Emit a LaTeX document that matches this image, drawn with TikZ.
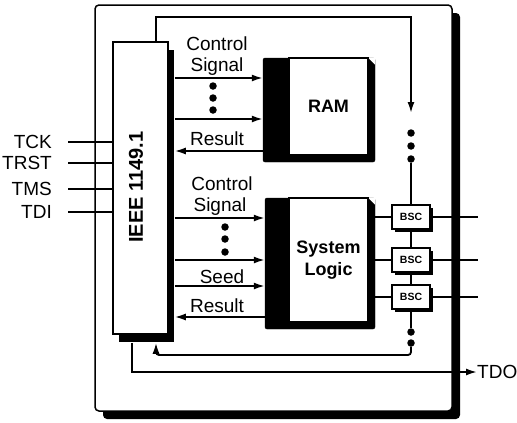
\documentclass[tikz,border=0pt]{standalone}
\usepackage{fontspec}
\setmainfont{Liberation Sans}
\usetikzlibrary{arrows.meta,shadows,calc}
\begin{document}
\begin{tikzpicture}[x=1pt,y=-1pt,
  ln/.style={line width=1.8pt},
  arr/.style={ln,-{Latex[length=11pt,width=7pt]}},
  face/.style={draw,line width=1.5pt,fill=white,inner sep=0pt},
  blk/.style={fill=black,draw=black,inner sep=0pt,rounded corners=2pt},
  lbl/.style={inner sep=0pt,font=\fontsize{19}{22}\selectfont},
  blbl/.style={font=\fontsize{18}{22}\selectfont\bfseries},
  dotn/.style={circle,fill=black,inner sep=0pt,minimum size=7.5pt},
  bsc/.style={face,minimum width=38pt,minimum height=24pt,font=\fontsize{10.5}{11}\selectfont\bfseries,general shadow={fill=black,shadow xshift=3pt,shadow yshift=-3pt}}
]
\useasboundingbox (0,0) rectangle (517,423);
% outer chip
\node[face,minimum width=357pt,minimum height=406pt,rounded corners=4pt,
  general shadow={fill=black,shadow xshift=8pt,shadow yshift=-8pt}] (outer) at (273.5,208) {};
% IEEE controller
\node[face,minimum width=55pt,minimum height=292pt,
  general shadow={fill=black,shadow xshift=6pt,shadow yshift=-8pt}] (ieee) at (140.5,188) {};
\node[rotate=90,inner sep=0pt,font=\fontsize{20}{22}\selectfont\bfseries] (ieeetxt) at (136,187) {IEEE 1149.1};
\coordinate (ieeeR) at ([xshift=6pt]ieee.east);
\coordinate (ieeeB) at ([yshift=-8pt]ieee.south);
% RAM
\node[blk,minimum width=112pt,minimum height=104pt] (ram) at (319,110) {};
\fill[white] (ram.north east) -- ++(-7,0) -- ++(7,7) -- cycle;
\node[face,blbl,minimum width=79pt,minimum height=97pt] (ramface) at (328.5,106.5) {RAM};
% System logic
\node[blk,minimum width=110pt,minimum height=131pt] (sys) at (320,263.5) {};
\fill[white] (sys.north east) -- ++(-7,0) -- ++(7,7) -- cycle;
\node[face,blbl,align=center,minimum width=79pt,minimum height=124pt] (sysface) at (328.5,260) {System\\Logic};
% BSCs
\node[bsc] (bsc1) at (411,217) {BSC};
\node[bsc] (bsc2) at (411,260) {BSC};
\node[bsc] (bsc3) at (411,297) {BSC};
% arrows IEEE <-> RAM
\draw[arr] (ieeeR |- 0,78) -- (ram.west |- 0,78);
\draw[arr] (ieeeR |- 0,119) -- (ram.west |- 0,119);
\draw[arr] (ram.west |- 0,151) -- (ieeeR |- 0,151);
% arrows IEEE <-> System logic
\draw[arr] (ieeeR |- 0,218) -- (sys.west |- 0,218);
\draw[arr] (ieeeR |- 0,260) -- (sys.west |- 0,260);
\draw[arr] (ieeeR |- 0,286) -- (sys.west |- 0,286);
\draw[arr] (sys.west |- 0,317) -- (ieeeR |- 0,317);
% labels
\node[lbl,anchor=base] (cs1a) at (217,50) {Control};
\node[lbl,anchor=base] (cs1b) at (217,71) {Signal};
\node[lbl,anchor=base] (res1) at (217,145) {Result};
\node[lbl,anchor=base] (cs2a) at (222,190) {Control};
\node[lbl,anchor=base] (cs2b) at (220,211) {Signal};
\node[lbl,anchor=base] (seed) at (222,283) {Seed};
\node[lbl,anchor=base] (res2) at (217,312) {Result};
% dots
\foreach \y [count=\i] in {86,98,110} \node[dotn] (rd\i) at (213,\y) {};
\foreach \y [count=\i] in {227,239,252} \node[dotn] (sd\i) at (225,\y) {};
\foreach \y [count=\i] in {133,146,159} \node[dotn] (ud\i) at (411,\y) {};
\foreach \y [count=\i] in {332,343} \node[dotn] (ld\i) at (411,\y) {};
% scan path top
\coordinate (tl) at (156,17);
\coordinate (tr) at (411,17);
\coordinate (ta) at (411,113);
\draw[arr] (ieee.north -| tl) -- (tl) -- (tr) -- (ta);
\draw[ln] (ud3) -- (bsc1.north);
\draw[ln] (bsc1.south) -- (bsc2.north);
\draw[ln] (bsc2.south) -- (bsc3.north);
\draw[ln] (bsc3.south) -- (ld1);
% return path
\coordinate (rc) at (411,355);
\coordinate (rl) at (156,355);
\draw[arr,rounded corners=3pt] (ld2) -- (rc) -- (rl) -- (ieeeB -| rl);
% TDO
\coordinate (td) at (132,372);
\node[lbl,anchor=west] (tdo) at (477,372) {TDO};
\draw[arr] (ieeeB -| td) -- (td) -- (tdo.west);
% BSC connections
\coordinate (o1) at (478,217);
\coordinate (o2) at (478,260);
\coordinate (o3) at (478,297);
\draw[ln] (sys.east |- bsc1.west) -- (bsc1.west);
\draw[ln] (sys.east |- bsc2.west) -- (bsc2.west);
\draw[ln] (sys.east |- bsc3.west) -- (bsc3.west);
\draw[ln] (bsc1.east) -- (o1);
\draw[ln] (bsc2.east) -- (o2);
\draw[ln] (bsc3.east) -- (o3);
% inputs
\node[lbl,anchor=east] (tck) at (52,142) {TCK};
\node[lbl,anchor=east] (trst) at (52,163) {TRST};
\node[lbl,anchor=east] (tms) at (52,189) {TMS};
\node[lbl,anchor=east] (tdi) at (52,212) {TDI};
\foreach \n in {tck,trst,tms,tdi}
  \draw[ln] ([xshift=16pt]\n.east) -- (ieee.west |- \n.east);
\end{tikzpicture}
\end{document}
